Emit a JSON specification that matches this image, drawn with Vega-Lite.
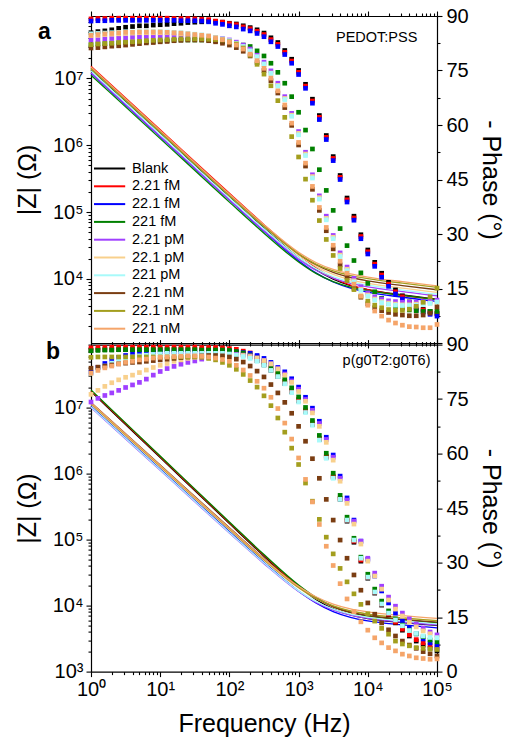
{
"$schema": "https://vega.github.io/schema/vega-lite/v6.json",
"padding": {"left": 15, "top": 6, "right": 5, "bottom": 2},
"bounds": "flush",
"spacing": 1.6,
"config": {
  "font": "Liberation Sans",
  "view": {"stroke": null},
  "axis": {"grid": false, "domainColor": "#000", "domainWidth": 1.2, "tickColor": "#000", "tickWidth": 1.1, "labelColor": "#000", "titleColor": "#000", "labelFont": "Liberation Sans", "titleFont": "Liberation Sans", "labelFontSize": 20, "titleFontSize": 25, "titleFontWeight": "normal", "labelOverlap": false, "labelFlush": false, "labelBound": false}
},
"resolve": {"legend": {"color": "independent"}},
"datasets": {
"zz": [
{"p":"a","f":1,"B":13500000,"r":15200000,"b":12000000,"g":11200000,"pu":12200000,"lo":14200000,"c":13000000,"br":14500000,"ol":14000000,"or":14800000},
{"p":"a","f":10,"B":1515000,"r":1705000,"b":1346000,"g":1257000,"pu":1369000,"lo":1593000,"c":1459000,"br":1627000,"ol":1571000,"or":1661000},
{"p":"a","f":100,"B":170400,"r":191400,"b":151100,"g":141000,"pu":153600,"lo":178800,"c":163700,"br":182600,"ol":176300,"or":186300},
{"p":"a","f":316,"B":57900,"r":65000,"b":51600,"g":48400,"pu":52800,"lo":61400,"c":56300,"br":62800,"ol":61100,"or":64600},
{"p":"a","f":1000,"B":20960,"r":23110,"b":18750,"g":17980,"pu":19800,"lo":22850,"c":21040,"br":23740,"ol":23690,"or":25010},
{"p":"a","f":1780,"B":13690,"r":14740,"b":12310,"g":12110,"pu":13480,"lo":15450,"c":14290,"br":16290,"ol":16690,"or":17610},
{"p":"a","f":3160,"B":9900,"r":10330,"b":8990,"g":9120,"pu":10260,"lo":11670,"c":10840,"br":12500,"ol":13150,"or":13860},
{"p":"a","f":5620,"B":7960,"r":8060,"b":7280,"g":7560,"pu":8580,"lo":9700,"c":9050,"br":10510,"ol":11250,"or":11860},
{"p":"a","f":10000,"B":6930,"r":6890,"b":6350,"g":6700,"pu":7630,"lo":8600,"c":8050,"br":9380,"ol":10130,"or":10670},
{"p":"a","f":31600,"B":5780,"r":5680,"b":5320,"g":5660,"pu":6460,"lo":7270,"c":6810,"br":7960,"ol":8640,"or":9100},
{"p":"a","f":100000,"B":5000,"r":4910,"b":4600,"g":4900,"pu":5600,"lo":6300,"c":5900,"br":6900,"ol":7500,"or":7900},
{"p":"b","f":1,"B":17500000,"r":18000000,"b":10500000,"g":18500000,"pu":10000000,"lo":11200000,"c":10200000,"br":12000000,"ol":11500000,"or":11800000},
{"p":"b","f":10,"B":1750000,"r":1800000,"b":1178000,"g":1850000,"pu":1122000,"lo":1257000,"c":1144000,"br":1346000,"ol":1290000,"or":1324000},
{"p":"b","f":100,"B":175000,"r":180000,"b":132200,"g":185000,"pu":125900,"lo":141000,"c":128400,"br":151100,"ol":144800,"or":148600},
{"p":"b","f":316,"B":56000,"r":57800,"b":45100,"g":59300,"pu":43200,"lo":48500,"c":44100,"br":51800,"ol":49600,"or":51100},
{"p":"b","f":1000,"B":19240,"r":20000,"b":16560,"g":20500,"pu":16320,"lo":18430,"c":16720,"br":19180,"ol":18790,"or":19560},
{"p":"b","f":1780,"B":12370,"r":13060,"b":11010,"g":13300,"pu":11190,"lo":12730,"c":11520,"br":12910,"ol":12910,"or":13600},
{"p":"b","f":3160,"B":8920,"r":9570,"b":8130,"g":9670,"pu":8560,"lo":9810,"c":8850,"br":9680,"ol":9890,"or":10560},
{"p":"b","f":5620,"B":7210,"r":7830,"b":6640,"g":7870,"pu":7170,"lo":8260,"c":7430,"br":7990,"ol":8290,"or":8920},
{"p":"b","f":10000,"B":6350,"r":6950,"b":5850,"g":6960,"pu":6420,"lo":7420,"c":6670,"br":7090,"ol":7430,"or":8030},
{"p":"b","f":31600,"B":5530,"r":6080,"b":5090,"g":6080,"pu":5640,"lo":6520,"c":5860,"br":6190,"ol":6520,"or":7070},
{"p":"b","f":100000,"B":5000,"r":5500,"b":4600,"g":5500,"pu":5100,"lo":5900,"c":5300,"br":5600,"ol":5900,"or":6400}
],
"ph": [
{"p":"a","f":1,"B":85.4,"r":89.2,"b":88.6,"g":82.1,"pu":83.4,"lo":84.6,"c":85.1,"br":81.2,"ol":82.1,"or":84.7},
{"p":"a","f":1.259,"B":85.7,"r":89.3,"b":88.7,"g":82.3,"pu":83.5,"lo":84.7,"c":85.2,"br":81.3,"ol":82.3,"or":84.9},
{"p":"a","f":1.585,"B":85.9,"r":89.3,"b":88.7,"g":82.4,"pu":83.7,"lo":84.9,"c":85.3,"br":81.5,"ol":82.4,"or":85.1},
{"p":"a","f":1.995,"B":86.2,"r":89.4,"b":88.8,"g":82.5,"pu":83.8,"lo":85.0,"c":85.4,"br":81.7,"ol":82.5,"or":85.2},
{"p":"a","f":2.512,"B":86.6,"r":89.4,"b":88.8,"g":82.6,"pu":83.9,"lo":85.1,"c":85.5,"br":81.8,"ol":82.7,"or":85.4},
{"p":"a","f":3.162,"B":86.9,"r":89.4,"b":88.8,"g":82.7,"pu":84.0,"lo":85.2,"c":85.6,"br":82.0,"ol":82.8,"or":85.5},
{"p":"a","f":3.981,"B":87.1,"r":89.4,"b":88.8,"g":82.7,"pu":84.1,"lo":85.3,"c":85.6,"br":82.2,"ol":82.9,"or":85.5},
{"p":"a","f":5.012,"B":87.3,"r":89.4,"b":88.8,"g":82.9,"pu":84.2,"lo":85.4,"c":85.7,"br":82.4,"ol":83.0,"or":85.6},
{"p":"a","f":6.31,"B":87.3,"r":89.4,"b":88.8,"g":82.9,"pu":84.3,"lo":85.4,"c":85.7,"br":82.6,"ol":83.2,"or":85.6},
{"p":"a","f":7.943,"B":87.5,"r":89.4,"b":88.8,"g":83.0,"pu":84.3,"lo":85.4,"c":85.7,"br":82.7,"ol":83.3,"or":85.6},
{"p":"a","f":10,"B":87.6,"r":89.4,"b":88.8,"g":83.1,"pu":84.4,"lo":85.4,"c":85.7,"br":82.9,"ol":83.4,"or":85.6},
{"p":"a","f":12.59,"B":87.7,"r":89.4,"b":88.8,"g":83.2,"pu":84.4,"lo":85.4,"c":85.6,"br":83.0,"ol":83.5,"or":85.5},
{"p":"a","f":15.85,"B":87.9,"r":89.3,"b":88.8,"g":83.3,"pu":84.5,"lo":85.3,"c":85.5,"br":83.2,"ol":83.6,"or":85.4},
{"p":"a","f":19.95,"B":88.0,"r":89.3,"b":88.7,"g":83.4,"pu":84.5,"lo":85.1,"c":85.4,"br":83.3,"ol":83.7,"or":85.3},
{"p":"a","f":25.12,"B":88.2,"r":89.3,"b":88.7,"g":83.4,"pu":84.5,"lo":85.0,"c":85.2,"br":83.4,"ol":83.7,"or":85.1},
{"p":"a","f":31.62,"B":88.3,"r":89.2,"b":88.7,"g":83.4,"pu":84.5,"lo":84.8,"c":85.0,"br":83.4,"ol":83.7,"or":84.9},
{"p":"a","f":39.81,"B":88.4,"r":89.1,"b":88.6,"g":83.4,"pu":84.4,"lo":84.6,"c":84.8,"br":83.4,"ol":83.7,"or":84.7},
{"p":"a","f":50.12,"B":88.6,"r":89.0,"b":88.4,"g":83.4,"pu":84.2,"lo":84.3,"c":84.5,"br":83.2,"ol":83.6,"or":84.5},
{"p":"a","f":63.1,"B":88.5,"r":88.6,"b":88.0,"g":83.2,"pu":84.0,"lo":84.0,"c":84.1,"br":82.9,"ol":83.5,"or":84.0},
{"p":"a","f":79.43,"B":88.3,"r":88.3,"b":87.7,"g":82.9,"pu":83.8,"lo":83.6,"c":83.7,"br":82.5,"ol":83.4,"or":83.5},
{"p":"a","f":100,"B":88.0,"r":87.9,"b":87.3,"g":82.7,"pu":83.4,"lo":83.1,"c":83.2,"br":82.0,"ol":82.9,"or":82.8},
{"p":"a","f":125.9,"B":87.8,"r":87.6,"b":87.0,"g":82.3,"pu":82.8,"lo":82.4,"c":82.5,"br":81.3,"ol":82.3,"or":82.0},
{"p":"a","f":158.5,"B":87.3,"r":87.0,"b":86.4,"g":82.0,"pu":82.0,"lo":81.5,"c":81.6,"br":80.3,"ol":81.2,"or":80.9},
{"p":"a","f":199.5,"B":86.8,"r":86.5,"b":85.9,"g":81.6,"pu":80.9,"lo":80.3,"c":80.4,"br":79.0,"ol":79.2,"or":79.5},
{"p":"a","f":251.2,"B":86.2,"r":85.8,"b":85.2,"g":80.4,"pu":79.2,"lo":78.7,"c":78.8,"br":77.2,"ol":76.7,"or":77.7},
{"p":"a","f":316.2,"B":85.3,"r":84.9,"b":84.3,"g":79.0,"pu":77.3,"lo":76.7,"c":76.8,"br":75.0,"ol":74.0,"or":75.6},
{"p":"a","f":398.1,"B":84.0,"r":83.5,"b":82.9,"g":77.0,"pu":74.9,"lo":74.3,"c":74.2,"br":72.2,"ol":70.8,"or":72.9},
{"p":"a","f":501.2,"B":82.7,"r":82.2,"b":81.6,"g":74.5,"pu":71.5,"lo":70.9,"c":70.7,"br":68.8,"ol":66.7,"or":69.4},
{"p":"a","f":631,"B":80.5,"r":80.0,"b":79.4,"g":71.5,"pu":67.8,"lo":67.3,"c":67.0,"br":64.8,"ol":62.1,"or":65.5},
{"p":"a","f":794.3,"B":78.1,"r":77.6,"b":77.0,"g":67.8,"pu":63.2,"lo":62.7,"c":62.4,"br":59.9,"ol":56.8,"or":60.5},
{"p":"a","f":1000,"B":75.0,"r":74.5,"b":73.9,"g":63.5,"pu":58.2,"lo":57.7,"c":57.3,"br":54.5,"ol":51.2,"or":55.2},
{"p":"a","f":1259,"B":71.2,"r":70.7,"b":70.1,"g":58.6,"pu":52.5,"lo":52.0,"c":51.6,"br":48.7,"ol":45.1,"or":49.5},
{"p":"a","f":1585,"B":67.1,"r":66.6,"b":66.0,"g":53.4,"pu":46.3,"lo":45.8,"c":45.4,"br":42.3,"ol":39.3,"or":43.1},
{"p":"a","f":1995,"B":62.6,"r":62.1,"b":61.5,"g":47.7,"pu":40.5,"lo":40.0,"c":39.6,"br":36.5,"ol":33.7,"or":37.3},
{"p":"a","f":2512,"B":57.1,"r":56.6,"b":56.0,"g":42.0,"pu":34.9,"lo":34.3,"c":33.9,"br":30.9,"ol":28.5,"or":31.8},
{"p":"a","f":3162,"B":51.3,"r":50.8,"b":50.2,"g":36.5,"pu":29.6,"lo":29.1,"c":28.7,"br":25.9,"ol":24.1,"or":26.9},
{"p":"a","f":3981,"B":46.1,"r":45.6,"b":45.0,"g":31.5,"pu":24.8,"lo":24.2,"c":23.8,"br":21.5,"ol":20.5,"or":22.5},
{"p":"a","f":5012,"B":39.9,"r":39.4,"b":38.8,"g":26.8,"pu":20.9,"lo":20.3,"c":19.9,"br":18.1,"ol":17.2,"or":19.2},
{"p":"a","f":6310,"B":34.9,"r":34.4,"b":33.8,"g":22.7,"pu":17.8,"lo":17.1,"c":16.8,"br":15.1,"ol":14.7,"or":16.2},
{"p":"a","f":7943,"B":29.8,"r":29.3,"b":28.7,"g":19.3,"pu":15.5,"lo":14.8,"c":14.5,"br":12.6,"ol":12.9,"or":12.9},
{"p":"a","f":10000,"B":25.6,"r":25.1,"b":24.5,"g":16.4,"pu":13.8,"lo":13.2,"c":12.9,"br":10.8,"ol":11.5,"or":10.4},
{"p":"a","f":12589,"B":22.2,"r":21.7,"b":21.1,"g":14.1,"pu":12.7,"lo":12.1,"c":11.8,"br":9.7,"ol":10.4,"or":8.8},
{"p":"a","f":15849,"B":19.2,"r":18.7,"b":18.1,"g":12.3,"pu":12.1,"lo":11.4,"c":11.1,"br":8.9,"ol":9.7,"or":7.4},
{"p":"a","f":19953,"B":16.7,"r":16.2,"b":15.6,"g":10.9,"pu":11.6,"lo":11.0,"c":10.7,"br":8.4,"ol":9.2,"or":6.3},
{"p":"a","f":25119,"B":14.6,"r":14.1,"b":13.5,"g":10.1,"pu":11.4,"lo":10.7,"c":10.4,"br":7.9,"ol":9.0,"or":5.5},
{"p":"a","f":31623,"B":13.0,"r":12.7,"b":12.1,"g":9.6,"pu":11.2,"lo":10.5,"c":10.3,"br":7.7,"ol":9.0,"or":4.9},
{"p":"a","f":39811,"B":11.3,"r":11.0,"b":10.4,"g":9.1,"pu":11.2,"lo":10.5,"c":10.3,"br":7.5,"ol":9.3,"or":4.5},
{"p":"a","f":50119,"B":9.9,"r":9.6,"b":9.0,"g":8.9,"pu":11.2,"lo":10.7,"c":10.4,"br":7.5,"ol":10.1,"or":4.4},
{"p":"a","f":63096,"B":9.3,"r":9.1,"b":8.5,"g":8.7,"pu":11.4,"lo":10.8,"c":10.6,"br":7.7,"ol":11.2,"or":4.2},
{"p":"a","f":79433,"B":8.7,"r":8.5,"b":7.9,"g":8.7,"pu":11.5,"lo":11.0,"c":10.9,"br":8.2,"ol":12.7,"or":4.2},
{"p":"a","f":100000,"B":8.2,"r":8.0,"b":7.4,"g":8.7,"pu":11.8,"lo":11.2,"c":11.3,"br":9.9,"ol":15.1,"or":5.1},
{"p":"b","f":1,"B":88.4,"r":89.1,"b":82.4,"g":88.3,"pu":74.2,"lo":76.3,"c":82.1,"br":83.5,"ol":86.5,"or":82.1},
{"p":"b","f":1.259,"B":88.6,"r":89.2,"b":83.7,"g":88.4,"pu":75.2,"lo":77.4,"c":83.2,"br":83.8,"ol":86.6,"or":82.9},
{"p":"b","f":1.585,"B":88.6,"r":89.2,"b":84.8,"g":88.5,"pu":76.0,"lo":78.5,"c":84.1,"br":84.1,"ol":86.6,"or":83.6},
{"p":"b","f":1.995,"B":88.6,"r":89.3,"b":85.8,"g":88.5,"pu":76.7,"lo":79.5,"c":84.9,"br":84.4,"ol":86.6,"or":84.1},
{"p":"b","f":2.512,"B":88.6,"r":89.3,"b":86.5,"g":88.6,"pu":77.4,"lo":80.3,"c":85.6,"br":84.7,"ol":86.6,"or":84.7},
{"p":"b","f":3.162,"B":88.6,"r":89.3,"b":87.0,"g":88.6,"pu":78.2,"lo":81.0,"c":86.2,"br":84.9,"ol":86.6,"or":85.1},
{"p":"b","f":3.981,"B":88.6,"r":89.3,"b":87.4,"g":88.6,"pu":78.9,"lo":81.6,"c":86.6,"br":85.1,"ol":86.6,"or":85.4},
{"p":"b","f":5.012,"B":88.6,"r":89.3,"b":87.7,"g":88.6,"pu":79.6,"lo":82.3,"c":86.9,"br":85.2,"ol":86.6,"or":85.8},
{"p":"b","f":6.31,"B":88.6,"r":89.3,"b":87.8,"g":88.6,"pu":80.5,"lo":83.0,"c":87.1,"br":85.4,"ol":86.6,"or":86.0},
{"p":"b","f":7.943,"B":88.6,"r":89.3,"b":88.0,"g":88.6,"pu":81.6,"lo":83.7,"c":87.3,"br":85.6,"ol":86.6,"or":86.3},
{"p":"b","f":10,"B":88.6,"r":89.3,"b":88.0,"g":88.6,"pu":82.6,"lo":84.3,"c":87.4,"br":85.8,"ol":86.6,"or":86.5},
{"p":"b","f":12.59,"B":88.6,"r":89.3,"b":88.0,"g":88.6,"pu":83.4,"lo":84.8,"c":87.6,"br":86.0,"ol":86.6,"or":86.6},
{"p":"b","f":15.85,"B":88.6,"r":89.3,"b":88.0,"g":88.6,"pu":84.0,"lo":85.4,"c":87.6,"br":86.2,"ol":86.6,"or":86.7},
{"p":"b","f":19.95,"B":88.6,"r":89.3,"b":88.0,"g":88.6,"pu":84.6,"lo":85.8,"c":87.6,"br":86.4,"ol":86.6,"or":86.8},
{"p":"b","f":25.12,"B":88.6,"r":89.3,"b":88.0,"g":88.6,"pu":85.1,"lo":86.2,"c":87.6,"br":86.6,"ol":86.6,"or":86.9},
{"p":"b","f":31.62,"B":88.6,"r":89.3,"b":88.0,"g":88.6,"pu":85.5,"lo":86.5,"c":87.6,"br":86.7,"ol":86.6,"or":86.9},
{"p":"b","f":39.81,"B":88.6,"r":89.2,"b":88.0,"g":88.5,"pu":86.0,"lo":86.7,"c":87.6,"br":86.9,"ol":86.5,"or":86.8},
{"p":"b","f":50.12,"B":88.6,"r":89.2,"b":88.0,"g":88.5,"pu":86.5,"lo":86.9,"c":87.6,"br":87.0,"ol":86.2,"or":86.6},
{"p":"b","f":63.1,"B":88.6,"r":89.2,"b":88.0,"g":88.5,"pu":86.9,"lo":87.1,"c":87.6,"br":87.0,"ol":85.8,"or":86.3},
{"p":"b","f":79.43,"B":88.6,"r":89.1,"b":88.0,"g":88.5,"pu":87.1,"lo":87.1,"c":87.6,"br":86.9,"ol":85.1,"or":85.9},
{"p":"b","f":100,"B":88.2,"r":88.9,"b":88.0,"g":88.4,"pu":87.3,"lo":87.1,"c":87.4,"br":86.6,"ol":84.3,"or":85.4},
{"p":"b","f":125.9,"B":87.8,"r":88.7,"b":88.0,"g":88.1,"pu":87.3,"lo":87.1,"c":87.1,"br":86.0,"ol":83.2,"or":84.3},
{"p":"b","f":158.5,"B":87.3,"r":88.2,"b":87.8,"g":87.7,"pu":87.1,"lo":87.0,"c":86.7,"br":85.2,"ol":81.8,"or":83.0},
{"p":"b","f":199.5,"B":86.6,"r":87.7,"b":87.6,"g":87.1,"pu":86.9,"lo":86.7,"c":86.2,"br":84.1,"ol":80.1,"or":81.5},
{"p":"b","f":251.2,"B":85.6,"r":86.7,"b":87.0,"g":86.3,"pu":86.3,"lo":86.3,"c":85.4,"br":82.7,"ol":78.3,"or":79.9},
{"p":"b","f":316.2,"B":84.4,"r":85.4,"b":86.2,"g":85.2,"pu":85.6,"lo":85.6,"c":84.3,"br":81.1,"ol":75.9,"or":78.0},
{"p":"b","f":398.1,"B":82.9,"r":83.7,"b":85.1,"g":83.8,"pu":84.7,"lo":84.7,"c":82.9,"br":79.0,"ol":73.2,"or":75.5},
{"p":"b","f":501.2,"B":81.2,"r":81.9,"b":83.7,"g":82.3,"pu":83.4,"lo":83.3,"c":81.2,"br":76.7,"ol":69.8,"or":72.4},
{"p":"b","f":631,"B":79.3,"r":79.9,"b":82.5,"g":80.4,"pu":81.9,"lo":81.6,"c":79.2,"br":74.1,"ol":65.9,"or":68.4},
{"p":"b","f":794.3,"B":77.0,"r":77.4,"b":80.6,"g":78.1,"pu":80.0,"lo":79.6,"c":76.8,"br":71.1,"ol":61.5,"or":64.0},
{"p":"b","f":1000,"B":74.5,"r":74.9,"b":78.3,"g":75.6,"pu":77.7,"lo":77.1,"c":74.2,"br":67.5,"ol":57.0,"or":58.8},
{"p":"b","f":1259,"B":71.6,"r":72.0,"b":75.5,"g":72.7,"pu":74.9,"lo":74.4,"c":71.3,"br":63.4,"ol":51.9,"or":52.9},
{"p":"b","f":1585,"B":68.0,"r":68.5,"b":72.5,"g":69.1,"pu":71.9,"lo":71.2,"c":67.8,"br":58.6,"ol":46.9,"or":46.7},
{"p":"b","f":1995,"B":63.9,"r":64.2,"b":68.9,"g":65.0,"pu":68.3,"lo":67.5,"c":63.7,"br":53.2,"ol":41.9,"or":40.5},
{"p":"b","f":2512,"B":59.0,"r":59.3,"b":64.5,"g":60.1,"pu":63.9,"lo":63.1,"c":58.7,"br":47.4,"ol":37.0,"or":34.5},
{"p":"b","f":3162,"B":53.5,"r":53.8,"b":59.6,"g":54.6,"pu":59.0,"lo":58.2,"c":53.2,"br":41.7,"ol":32.4,"or":29.2},
{"p":"b","f":3981,"B":47.4,"r":47.7,"b":53.8,"g":48.5,"pu":53.2,"lo":52.4,"c":47.4,"br":36.2,"ol":28.4,"or":24.2},
{"p":"b","f":5012,"B":41.4,"r":41.7,"b":47.8,"g":42.5,"pu":47.2,"lo":46.3,"c":41.7,"br":31.2,"ol":24.7,"or":20.0},
{"p":"b","f":6310,"B":35.6,"r":35.9,"b":41.7,"g":36.7,"pu":41.4,"lo":40.6,"c":36.2,"br":26.6,"ol":21.4,"or":16.5},
{"p":"b","f":7943,"B":30.4,"r":30.7,"b":35.9,"g":31.5,"pu":35.9,"lo":35.1,"c":31.2,"br":22.4,"ol":18.5,"or":13.7},
{"p":"b","f":10000,"B":25.7,"r":26.0,"b":30.9,"g":26.8,"pu":31.2,"lo":30.4,"c":26.0,"br":18.9,"ol":15.9,"or":11.4},
{"p":"b","f":12589,"B":21.6,"r":21.9,"b":26.3,"g":22.7,"pu":27.1,"lo":26.3,"c":21.9,"br":15.8,"ol":13.9,"or":9.3},
{"p":"b","f":15849,"B":18.3,"r":18.6,"b":22.2,"g":19.4,"pu":23.5,"lo":22.7,"c":18.6,"br":13.4,"ol":11.9,"or":7.9},
{"p":"b","f":19953,"B":15.6,"r":15.8,"b":18.9,"g":16.7,"pu":20.5,"lo":19.7,"c":16.1,"br":11.5,"ol":10.3,"or":6.6},
{"p":"b","f":25119,"B":13.4,"r":13.6,"b":16.1,"g":14.5,"pu":18.0,"lo":17.2,"c":14.2,"br":9.8,"ol":8.4,"or":5.7},
{"p":"b","f":31623,"B":11.4,"r":11.7,"b":13.9,"g":12.8,"pu":16.1,"lo":15.3,"c":12.6,"br":8.4,"ol":7.6,"or":4.8},
{"p":"b","f":39811,"B":9.8,"r":10.1,"b":12.0,"g":11.4,"pu":14.5,"lo":13.6,"c":11.3,"br":7.3,"ol":7.1,"or":4.3},
{"p":"b","f":50119,"B":8.4,"r":8.8,"b":10.4,"g":10.4,"pu":13.1,"lo":12.3,"c":10.5,"br":6.4,"ol":6.6,"or":3.8},
{"p":"b","f":63096,"B":7.3,"r":7.9,"b":9.0,"g":9.6,"pu":12.0,"lo":11.2,"c":9.8,"br":5.5,"ol":6.4,"or":3.6},
{"p":"b","f":79433,"B":6.4,"r":7.2,"b":7.9,"g":8.7,"pu":10.9,"lo":10.4,"c":9.4,"br":4.9,"ol":6.2,"or":3.4},
{"p":"b","f":100000,"B":5.7,"r":6.8,"b":7.1,"g":8.2,"pu":10.1,"lo":9.3,"c":9.3,"br":4.3,"ol":6.1,"or":3.5}
]
},
"vconcat": [
{
 "width": 346, "height": 327,
 "resolve": {"scale": {"y": "independent"}, "axis": {"x": "independent", "y": "independent"}},
 "layer": [
  {
   "data": {"name": "zz"},
   "transform": [{"filter": "datum.p == 'a'"}, {"fold": ["B","r","b","g","pu","lo","c","br","ol","or"], "as": ["s","z"]}],
   "mark": {"type": "line", "strokeWidth": 1.3, "interpolate": "monotone"},
   "encoding": {
     "x": {"field": "f", "type": "quantitative", "scale": {"type": "log", "domain": [1, 100000]},
           "axis": {"orient": "bottom", "values": [1,2,3,4,5,6,7,8,9,10,20,30,40,50,60,70,80,90,100,200,300,400,500,600,700,800,900,1000,2000,3000,4000,5000,6000,7000,8000,9000,10000,20000,30000,40000,50000,60000,70000,80000,90000,100000], "labels": false, "title": null,
                    "tickSize": {"condition": {"test": "indexof([1,10,100,1000,10000,100000], datum.value) >= 0", "value": 5}, "value": 3}}},
     "y": {"field": "z", "type": "quantitative", "scale": {"type": "log", "domain": [1100, 86000000]},
           "axis": {"orient": "left", "values": [2000,3000,4000,5000,6000,7000,8000,9000,10000,20000,30000,40000,50000,60000,70000,80000,90000,100000,200000,300000,400000,500000,600000,700000,800000,900000,1000000,2000000,3000000,4000000,5000000,6000000,7000000,8000000,9000000,10000000,20000000,30000000,40000000,50000000,60000000,70000000,80000000],
                    "labelExpr": "datum.value==10000?'10⁴':datum.value==100000?'10⁵':datum.value==1000000?'10⁶':datum.value==10000000?'10⁷':''",
                    "tickSize": {"condition": {"test": "indexof([1000,10000,100000,1000000,10000000], datum.value) >= 0", "value": 5}, "value": 3},
                    "labelPadding": 3, "title": "|Z| (Ω)", "titleX": -63.5, "titleY": 163.5, "titleAngle": -90, "titleBaseline": "middle", "titleAlign": "center"}},
     "color": {"field": "s", "type": "nominal",
               "scale": {"domain": ["B","r","b","g","pu","lo","c","br","ol","or"], "range": ["#000000","#ff0000","#0000ff","#008000","#a040ff","#f8d08c","#a8fafa","#7a3d12","#a39e1e","#f5a56a"]},
               "legend": {"orient": "none", "legendX": 2, "legendY": 145, "title": null, "symbolType": "M-1,0H3.8", "symbolSize": 169, "symbolStrokeWidth": 2, "labelFontSize": 14.5, "labelFont": "Liberation Sans", "labelColor": "#000", "rowPadding": 2.8, "labelOffset": 24, "padding": 0,
                          "labelExpr": "['Blank','2.21 fM','22.1 fM','221 fM','2.21 pM','22.1 pM','221 pM','2.21 nM','22.1 nM','221 nM'][indexof(['B','r','b','g','pu','lo','c','br','ol','or'], datum.value)]"}}
   }
  },
  {
   "data": {"name": "ph"},
   "transform": [{"filter": "datum.p == 'a'"}, {"fold": ["B","r","b","g","pu","lo","c","br","ol","or"], "as": ["s","v"]}],
   "mark": {"type": "square", "size": 22, "opacity": 1},
   "encoding": {
     "x": {"field": "f", "type": "quantitative", "scale": {"type": "log", "domain": [1, 100000]},
           "axis": {"orient": "top", "values": [1,2,3,4,5,6,7,8,9,10,20,30,40,50,60,70,80,90,100,200,300,400,500,600,700,800,900,1000,2000,3000,4000,5000,6000,7000,8000,9000,10000,20000,30000,40000,50000,60000,70000,80000,90000,100000], "labels": false, "title": null,
                    "tickSize": {"condition": {"test": "indexof([1,10,100,1000,10000,100000], datum.value) >= 0", "value": 5}, "value": 3}}},
     "y": {"field": "v", "type": "quantitative", "scale": {"domain": [0, 90]},
           "axis": {"orient": "right", "values": [0,7.5,15,22.5,30,37.5,45,52.5,60,67.5,75,82.5,90],
                    "labelExpr": "datum.value % 15 == 0 && datum.value > 0 ? datum.label : ''",
                    "tickSize": {"condition": {"test": "datum.value % 15 == 0", "value": 5}, "value": 3},
                    "labelPadding": 4, "title": "- Phase (°)", "titleX": 53.8, "titleY": 163.5, "titleAngle": 90, "titleBaseline": "middle", "titleAlign": "center"}},
     "color": {"field": "s", "type": "nominal",
               "scale": {"domain": ["B","r","b","g","pu","lo","c","br","ol","or"], "range": ["#000000","#ff0000","#0000ff","#008000","#a040ff","#f8d08c","#a8fafa","#7a3d12","#a39e1e","#f5a56a"]},
               "legend": null}
   }
  },
  {
   "data": {"values": [{"t": "PEDOT:PSS"}]},
   "mark": {"type": "text", "align": "right", "baseline": "alphabetic", "fontSize": 14.5, "font": "Liberation Sans", "color": "#000"},
   "encoding": {"x": {"datum": 52000, "type": "quantitative", "scale": {"type": "log", "domain": [1, 100000]}, "axis": null}, "y": {"datum": 82.9, "type": "quantitative", "scale": {"domain": [0, 90]}, "axis": null}, "text": {"field": "t"}}
  },
  {
   "data": {"values": [{"t": "a"}]},
   "mark": {"type": "text", "align": "left", "baseline": "alphabetic", "fontSize": 23, "fontWeight": "bold", "font": "Liberation Sans", "color": "#000"},
   "encoding": {"x": {"datum": 0.171, "type": "quantitative", "scale": {"type": "log", "domain": [1, 100000]}, "axis": null}, "y": {"datum": 83.8, "type": "quantitative", "scale": {"domain": [0, 90]}, "axis": null}, "text": {"field": "t"}}
  }
 ]
},
{
 "width": 346, "height": 327,
 "resolve": {"scale": {"y": "independent"}, "axis": {"x": "independent", "y": "independent"}},
 "layer": [
  {
   "data": {"name": "zz"},
   "transform": [{"filter": "datum.p == 'b'"}, {"fold": ["B","r","b","g","pu","lo","c","br","ol","or"], "as": ["s","z"]}],
   "mark": {"type": "line", "strokeWidth": 1.3, "interpolate": "monotone"},
   "encoding": {
     "x": {"field": "f", "type": "quantitative", "scale": {"type": "log", "domain": [1, 100000]},
           "axis": {"orient": "bottom", "values": [1,2,3,4,5,6,7,8,9,10,20,30,40,50,60,70,80,90,100,200,300,400,500,600,700,800,900,1000,2000,3000,4000,5000,6000,7000,8000,9000,10000,20000,30000,40000,50000,60000,70000,80000,90000,100000],
                    "labelExpr": "datum.value==1?'10⁰':datum.value==10?'10¹':datum.value==100?'10²':datum.value==1000?'10³':datum.value==10000?'10⁴':datum.value==100000?'10⁵':''",
                    "labelPadding": 3,
                    "tickSize": {"condition": {"test": "indexof([1,10,100,1000,10000,100000], datum.value) >= 0", "value": 5}, "value": 3},
                    "title": "Frequency (Hz)", "titleY": 60, "titleBaseline": "alphabetic", "titleX": 173, "titleAlign": "center"}},
     "y": {"field": "z", "type": "quantitative", "scale": {"type": "log", "domain": [1000, 90000000]},
           "axis": {"orient": "left", "values": [1000,2000,3000,4000,5000,6000,7000,8000,9000,10000,20000,30000,40000,50000,60000,70000,80000,90000,100000,200000,300000,400000,500000,600000,700000,800000,900000,1000000,2000000,3000000,4000000,5000000,6000000,7000000,8000000,9000000,10000000,20000000,30000000,40000000,50000000,60000000,70000000,80000000,90000000],
                    "labelExpr": "datum.value==1000?'10³':datum.value==10000?'10⁴':datum.value==100000?'10⁵':datum.value==1000000?'10⁶':datum.value==10000000?'10⁷':''",
                    "tickSize": {"condition": {"test": "indexof([1000,10000,100000,1000000,10000000], datum.value) >= 0", "value": 5}, "value": 3},
                    "labelPadding": 3, "title": "|Z| (Ω)", "titleX": -63.5, "titleY": 163.5, "titleAngle": -90, "titleBaseline": "middle", "titleAlign": "center"}},
     "color": {"field": "s", "type": "nominal",
               "scale": {"domain": ["B","r","b","g","pu","lo","c","br","ol","or"], "range": ["#000000","#ff0000","#0000ff","#008000","#a040ff","#f8d08c","#a8fafa","#7a3d12","#a39e1e","#f5a56a"]},
               "legend": null}
   }
  },
  {
   "data": {"name": "ph"},
   "transform": [{"filter": "datum.p == 'b'"}, {"fold": ["B","r","b","g","pu","lo","c","br","ol","or"], "as": ["s","v"]}],
   "mark": {"type": "square", "size": 22, "opacity": 1},
   "encoding": {
     "x": {"field": "f", "type": "quantitative", "scale": {"type": "log", "domain": [1, 100000]},
           "axis": {"orient": "top", "values": [1,2,3,4,5,6,7,8,9,10,20,30,40,50,60,70,80,90,100,200,300,400,500,600,700,800,900,1000,2000,3000,4000,5000,6000,7000,8000,9000,10000,20000,30000,40000,50000,60000,70000,80000,90000,100000], "labels": false, "title": null,
                    "tickSize": {"condition": {"test": "indexof([1,10,100,1000,10000,100000], datum.value) >= 0", "value": 5}, "value": 3}}},
     "y": {"field": "v", "type": "quantitative", "scale": {"domain": [0, 90]},
           "axis": {"orient": "right", "values": [0,7.5,15,22.5,30,37.5,45,52.5,60,67.5,75,82.5,90],
                    "labelExpr": "datum.value % 15 == 0 ? datum.label : ''",
                    "tickSize": {"condition": {"test": "datum.value % 15 == 0", "value": 5}, "value": 3},
                    "labelPadding": 4, "title": "- Phase (°)", "titleX": 53.8, "titleY": 163.5, "titleAngle": 90, "titleBaseline": "middle", "titleAlign": "center"}},
     "color": {"field": "s", "type": "nominal",
               "scale": {"domain": ["B","r","b","g","pu","lo","c","br","ol","or"], "range": ["#000000","#ff0000","#0000ff","#008000","#a040ff","#f8d08c","#a8fafa","#7a3d12","#a39e1e","#f5a56a"]},
               "legend": null}
   }
  },
  {
   "data": {"values": [{"t": "p(g0T2:g0T6)"}]},
   "mark": {"type": "text", "align": "right", "baseline": "alphabetic", "fontSize": 14.5, "font": "Liberation Sans", "color": "#000"},
   "encoding": {"x": {"datum": 80500, "type": "quantitative", "scale": {"type": "log", "domain": [1, 100000]}, "axis": null}, "y": {"datum": 84.3, "type": "quantitative", "scale": {"domain": [0, 90]}, "axis": null}, "text": {"field": "t"}}
  },
  {
   "data": {"values": [{"t": "b"}]},
   "mark": {"type": "text", "align": "left", "baseline": "alphabetic", "fontSize": 23, "fontWeight": "bold", "font": "Liberation Sans", "color": "#000"},
   "encoding": {"x": {"datum": 0.223, "type": "quantitative", "scale": {"type": "log", "domain": [1, 100000]}, "axis": null}, "y": {"datum": 85.9, "type": "quantitative", "scale": {"domain": [0, 90]}, "axis": null}, "text": {"field": "t"}}
  }
 ]
}
]
}
